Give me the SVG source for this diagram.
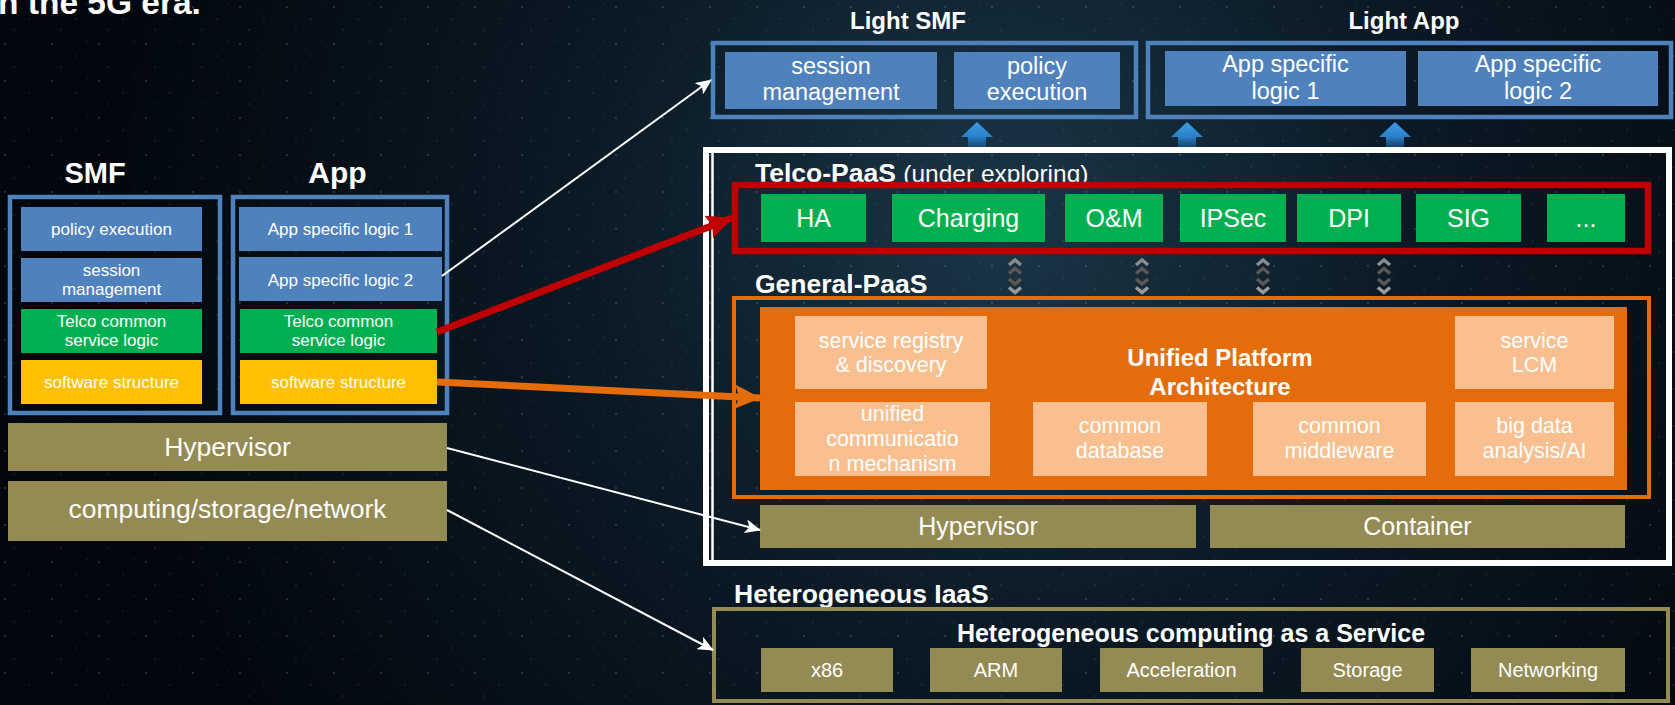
<svg xmlns="http://www.w3.org/2000/svg" width="1675" height="705" viewBox="0 0 1675 705">
<defs>
<radialGradient id="bg" cx="1000" cy="220" r="900" gradientUnits="userSpaceOnUse">
<stop offset="0" stop-color="#1b3646"/>
<stop offset="0.45" stop-color="#0b1a26"/>
<stop offset="1" stop-color="#02070d"/>
</radialGradient>
<pattern id="stars" width="47" height="37" patternUnits="userSpaceOnUse">
<circle cx="5" cy="7" r="0.9" fill="#9fb8c8" opacity="0.3"/>
<circle cx="29" cy="19" r="0.7" fill="#9fb8c8" opacity="0.25"/>
<circle cx="14" cy="30" r="0.8" fill="#9fb8c8" opacity="0.22"/>
<circle cx="40" cy="4" r="0.6" fill="#9fb8c8" opacity="0.25"/>
<circle cx="22" cy="11" r="0.5" fill="#9fb8c8" opacity="0.2"/>
</pattern>
<linearGradient id="upArrow" x1="0" y1="0" x2="0" y2="1">
<stop offset="0" stop-color="#3d9de8"/>
<stop offset="0.6" stop-color="#2a7fc8"/>
<stop offset="1" stop-color="#1d5f99" stop-opacity="0.6"/>
</linearGradient>
<marker id="mWhite" markerUnits="userSpaceOnUse" markerWidth="16" markerHeight="14" refX="15" refY="7" orient="auto">
<path d="M0,0 L16,7 L0,14 L4,7 Z" fill="#ffffff"/>
</marker>
<marker id="mRed" markerUnits="userSpaceOnUse" markerWidth="26" markerHeight="24" refX="25" refY="12" orient="auto">
<path d="M0,0 L26,12 L0,24 L4,12 Z" fill="#c00000"/>
</marker>
<marker id="mOrange" markerUnits="userSpaceOnUse" markerWidth="26" markerHeight="24" refX="25" refY="12" orient="auto">
<path d="M0,0 L26,12 L0,24 L4,12 Z" fill="#e46c0a"/>
</marker>
<g id="chev">
<polyline points="-6,5 0,0 6,5" fill="none" stroke="#8c8c8c" stroke-width="3.4"/>
<polyline points="-6,13.5 0,8.5 6,13.5" fill="none" stroke="#5f5852" stroke-width="3.4"/>
<polyline points="-6,19 0,24 6,19" fill="none" stroke="#5f5852" stroke-width="3.4"/>
<polyline points="-6,27.5 0,32.5 6,27.5" fill="none" stroke="#9a9a9a" stroke-width="3.4"/>
</g>
<polygon id="uparr" points="0,0 -16,15 -9,15 -9,25 9,25 9,15 16,15" fill="url(#upArrow)"/>
</defs>
<style>
text{font-family:"Liberation Sans",Arial,sans-serif;fill:#ffffff}
.c{text-anchor:middle}
.b{font-weight:bold}
.blue{fill:#4f81bd}
.green{fill:#00b050}
.yellow{fill:#ffc000}
.olive{fill:#948a54}
.peach{fill:#f9bf8f}
.frame{fill:none;stroke:#4f81bd;stroke-width:4.5}
.s17{font-size:17px}
.s23{font-size:23.5px}
.s25{font-size:25px}
.s21{font-size:21.5px}
.s20{font-size:20px}
.s26{font-size:26.5px}
.wline{fill:none;stroke:#ffffff;stroke-width:2}
</style>
<rect x="0" y="0" width="1675" height="705" fill="url(#bg)"/>
<rect x="0" y="0" width="1675" height="705" fill="url(#stars)"/>
<text x="-2" y="14" class="b" style="font-size:33.5px">n the 5G era.</text>

<g id="smf">
<text x="95" y="183" class="c b" style="font-size:29px">SMF</text>
<rect class="frame" x="10" y="197" width="210" height="216"/>
<rect class="blue" x="21" y="207" width="181" height="44"/>
<text x="111.5" y="235" class="c s17">policy execution</text>
<rect class="blue" x="21" y="258" width="181" height="44"/>
<text x="111.5" y="276" class="c s17">session</text>
<text x="111.5" y="295" class="c s17">management</text>
<rect class="green" x="21" y="309" width="181" height="44"/>
<text x="111.5" y="326.5" class="c s17">Telco common</text>
<text x="111.5" y="345.5" class="c s17">service logic</text>
<rect class="yellow" x="21" y="360" width="181" height="44"/>
<text x="111.5" y="388" class="c s17">software structure</text>
</g>

<g id="app">
<text x="337.5" y="183" class="c b" style="font-size:30px">App</text>
<rect class="frame" x="233" y="197" width="214" height="216"/>
<rect class="blue" x="239" y="207" width="203" height="44"/>
<text x="340.5" y="235" class="c s17">App specific logic 1</text>
<rect class="blue" x="239" y="257" width="203" height="44"/>
<text x="340.5" y="285.5" class="c s17">App specific logic 2</text>
<rect class="green" x="240" y="309" width="197" height="44"/>
<text x="338.5" y="326.5" class="c s17">Telco common</text>
<text x="338.5" y="345.5" class="c s17">service logic</text>
<rect class="yellow" x="240" y="360" width="197" height="44"/>
<text x="338.5" y="388" class="c s17">software structure</text>
</g>

<g id="left-hypervisor">
<rect class="olive" x="8" y="423" width="439" height="48"/>
<text x="227.5" y="456" class="c s26">Hypervisor</text>
</g>
<g id="left-infra">
<rect class="olive" x="8" y="481" width="439" height="60"/>
<text x="227.5" y="518" class="c s26">computing/storage/network</text>
</g>

<g id="light-smf">
<text x="908" y="29" class="c b" style="font-size:24px">Light SMF</text>
<rect class="frame" x="713" y="43" width="423" height="74"/>
<rect class="blue" x="725" y="52" width="212" height="57"/>
<text x="831" y="73.5" class="c s23">session</text>
<text x="831" y="100" class="c s23">management</text>
<rect class="blue" x="954" y="52" width="166" height="57"/>
<text x="1037" y="73.5" class="c s23">policy</text>
<text x="1037" y="100" class="c s23">execution</text>
</g>

<g id="light-app">
<text x="1404" y="29" class="c b" style="font-size:24px">Light App</text>
<rect class="frame" x="1148" y="43" width="523" height="74"/>
<rect class="blue" x="1165" y="51" width="241" height="55"/>
<text x="1285.5" y="72" class="c s23">App specific</text>
<text x="1285.5" y="98.5" class="c s23">logic 1</text>
<rect class="blue" x="1418" y="51" width="240" height="55"/>
<text x="1538" y="72" class="c s23">App specific</text>
<text x="1538" y="98.5" class="c s23">logic 2</text>
</g>

<g id="up-arrows">
<use href="#uparr" x="977" y="122"/>
<use href="#uparr" x="1187" y="122"/>
<use href="#uparr" x="1395" y="122"/>
</g>

<g id="platform">
<rect x="706" y="150" width="963" height="413" fill="none" stroke="#ffffff" stroke-width="6"/>
<line x1="712.5" y1="153" x2="712.5" y2="560" stroke="#ffffff" stroke-width="2.5"/>
</g>

<g id="telco-paas">
<text x="755" y="182" class="b s26">Telco-PaaS <tspan style="font-weight:normal;font-size:24.5px">(under exploring)</tspan></text>
<rect x="735" y="185" width="913" height="66" fill="none" stroke="#c00000" stroke-width="6.5"/>
<rect class="green" x="761" y="194" width="105" height="48"/>
<text x="813.5" y="226.5" class="c s25">HA</text>
<rect class="green" x="892" y="194" width="153" height="48"/>
<text x="968.5" y="226.5" class="c s25">Charging</text>
<rect class="green" x="1065" y="194" width="98" height="48"/>
<text x="1114" y="226.5" class="c s25">O&amp;M</text>
<rect class="green" x="1180" y="194" width="106" height="48"/>
<text x="1233" y="226.5" class="c s25">IPSec</text>
<rect class="green" x="1297" y="194" width="104" height="48"/>
<text x="1349" y="226.5" class="c s25">DPI</text>
<rect class="green" x="1416" y="194" width="105" height="48"/>
<text x="1468.5" y="226.5" class="c s25">SIG</text>
<rect class="green" x="1547" y="194" width="78" height="48"/>
<text x="1586" y="226.5" class="c s25">...</text>
</g>

<g id="chevrons">
<use href="#chev" x="1015" y="260"/>
<use href="#chev" x="1142" y="260"/>
<use href="#chev" x="1263" y="260"/>
<use href="#chev" x="1384" y="260"/>
</g>

<g id="general-paas">
<text x="755" y="293" class="b s26">General-PaaS</text>
<rect x="734" y="298" width="915" height="199" fill="none" stroke="#e46c0a" stroke-width="4"/>
<rect x="760" y="307" width="867" height="183" fill="#e46c0a"/>
<text x="1220" y="366" class="c b" style="font-size:24px">Unified Platform</text>
<text x="1220" y="395" class="c b" style="font-size:24px">Architecture</text>
<rect class="peach" x="795" y="316" width="192" height="73"/>
<text x="891" y="347.5" class="c s21">service registry</text>
<text x="891" y="372" class="c s21">&amp; discovery</text>
<rect class="peach" x="1455" y="316" width="159" height="73"/>
<text x="1534.5" y="347.5" class="c s21">service</text>
<text x="1534.5" y="372" class="c s21">LCM</text>
<rect class="peach" x="795" y="402" width="195" height="74"/>
<text x="892.5" y="421" class="c s21">unified</text>
<text x="892.5" y="446" class="c s21">communicatio</text>
<text x="892.5" y="471" class="c s21">n mechanism</text>
<rect class="peach" x="1033" y="402" width="174" height="74"/>
<text x="1120" y="433" class="c s21">common</text>
<text x="1120" y="458" class="c s21">database</text>
<rect class="peach" x="1253" y="402" width="173" height="74"/>
<text x="1339.5" y="433" class="c s21">common</text>
<text x="1339.5" y="458" class="c s21">middleware</text>
<rect class="peach" x="1455" y="402" width="159" height="74"/>
<text x="1534.5" y="433" class="c s21">big data</text>
<text x="1534.5" y="458" class="c s21">analysis/AI</text>
</g>

<g id="virtualization">
<rect class="olive" x="760" y="505" width="436" height="43"/>
<text x="978" y="535" class="c s25">Hypervisor</text>
<rect class="olive" x="1210" y="505" width="415" height="43"/>
<text x="1417.5" y="535" class="c s25">Container</text>
</g>

<g id="iaas">
<text x="734" y="603" class="b s26">Heterogeneous IaaS</text>
<rect x="714" y="609" width="954" height="92" fill="none" stroke="#948a54" stroke-width="4"/>
<text x="1191" y="642" class="c b" style="font-size:25px">Heterogeneous computing as a Service</text>
<rect class="olive" x="761" y="648" width="132" height="44"/>
<text x="827" y="677" class="c s20">x86</text>
<rect class="olive" x="930" y="648" width="132" height="44"/>
<text x="996" y="677" class="c s20">ARM</text>
<rect class="olive" x="1100" y="648" width="163" height="44"/>
<text x="1181.5" y="677" class="c s20">Acceleration</text>
<rect class="olive" x="1301" y="648" width="133" height="44"/>
<text x="1367.5" y="677" class="c s20">Storage</text>
<rect class="olive" x="1471" y="648" width="154" height="44"/>
<text x="1548" y="677" class="c s20">Networking</text>
</g>

<g id="connectors">
<line class="wline" x1="442" y1="276" x2="711" y2="80" marker-end="url(#mWhite)"/>
<line x1="437" y1="332" x2="732" y2="218" stroke="#c00000" stroke-width="7" marker-end="url(#mRed)"/>
<line x1="437" y1="382" x2="760" y2="398" stroke="#e46c0a" stroke-width="7" marker-end="url(#mOrange)"/>
<line class="wline" x1="447" y1="448" x2="760" y2="530" marker-end="url(#mWhite)"/>
<line class="wline" x1="447" y1="510" x2="713" y2="650" marker-end="url(#mWhite)"/>
</g>
</svg>
